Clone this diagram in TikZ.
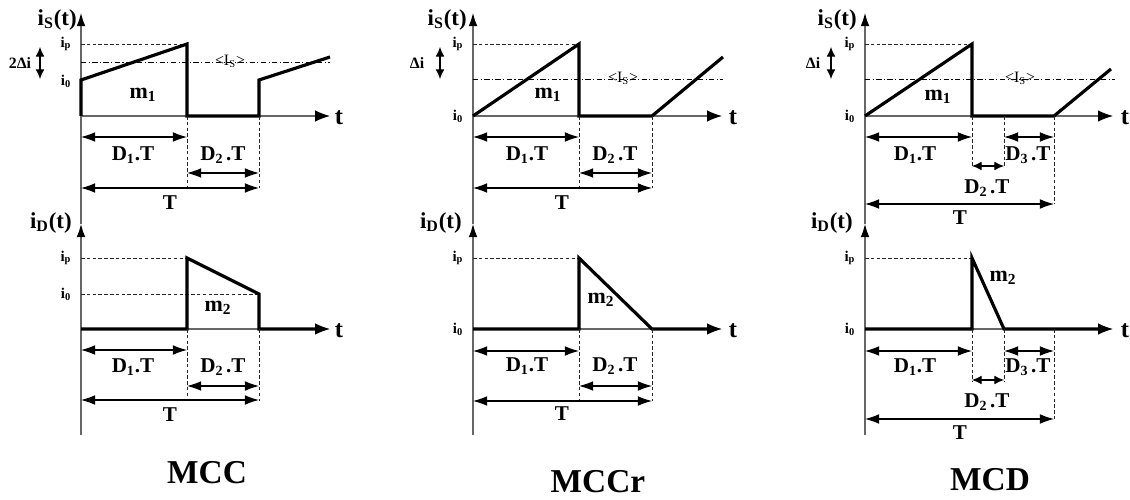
\documentclass[tikz,border=0pt]{standalone}
\usepackage{fontspec}
\setmainfont{Liberation Serif}
\usetikzlibrary{arrows.meta}
\tikzset{
  ax/.style={draw=black!60, line width=0.6pt},
  yaxis/.style={ax, -{Latex[length=7.5pt,width=5pt,color=black]}},
  taxis/.style={ax, -{Latex[length=8.5pt,width=6.5pt,color=black]}},
  wave/.style={line width=1.8pt, line join=miter},
  dim/.style={line width=0.6pt, {Latex[length=8pt,width=5.5pt]}-{Latex[length=8pt,width=5.5pt]}},
  dimsmall/.style={line width=0.6pt, {Latex[length=5.5pt,width=5pt]}-{Latex[length=5.5pt,width=5pt]}},
  guide/.style={line width=0.55pt, dash pattern=on 2pt off 1.3pt, draw=black!85},
  avg/.style={line width=0.5pt, dash pattern=on 3pt off 1.4pt on 0.6pt off 1.4pt},
  lbl/.style={font=\fontsize{12}{12}\selectfont\bfseries, inner sep=0pt},
  axlbl/.style={font=\fontsize{13}{13}\selectfont\bfseries, inner sep=0pt, anchor=east},
  small/.style={font=\fontsize{8.5}{8.5}\selectfont\bfseries, inner sep=0pt},
  avglbl/.style={font=\fontsize{9}{9}\selectfont, inner sep=0pt},
  tlbl/.style={font=\fontsize{14}{14}\selectfont\bfseries, inner sep=0pt},
  title/.style={font=\fontsize{19}{19}\selectfont\bfseries, inner sep=0pt},
  mlbl/.style={font=\fontsize{12.5}{12.5}\selectfont\bfseries, inner sep=0pt},
  dlbl/.style={font=\fontsize{9}{9}\selectfont\bfseries, inner sep=0pt},
}
\newcommand{\Dlab}[1]{D\textsubscript{#1}.T}
\newcommand{\Dlabs}[1]{D\textsubscript{#1}\kern1.5pt.T}
\begin{document}
\begin{tikzpicture}[x=0.02cm,y=-0.02cm]
\useasboundingbox (0,0) rectangle (1130,500);

% ================= Panel 1 : MCC =================
\begin{scope}[shift={(81,0)}]
  \draw[yaxis] (0,224) -- (0,13);
  \draw[yaxis] (0,435) -- (0,224);
  \draw[taxis] (0,116) -- (249,116);
  \draw[taxis] (0,329) -- (249,329);
  \node[tlbl] (A-t1) at (258,118) {t};
  \node[tlbl] (A-t2) at (258,331) {t};
  \node[axlbl] (A-is) at (-4,20) {i\textsubscript{S}(t)};
  \node[axlbl] (A-id) at (-9,223) {i\textsubscript{D}(t)};
  % top waveform
  \draw[guide] (0,44) -- (106,44);
  \draw[avg] (0,62) -- (249,62);
  \node[avglbl] (A-avg) at (149,61) {<I\textsubscript{S}>};
  \draw[wave] (0,116) -- (0,80) -- (106,44) -- (106,116) -- (178,116) -- (178,80) -- (249,57);
  \node[small] (A-ip) at (-15,44) {i\textsubscript{p}};
  \node[small] (A-i0) at (-15,81) {i\textsubscript{0}};
  \node[dlbl] (A-di) at (-61,63) {2Δi};
  \draw[dimsmall] (-41,47) -- (-41,79);
  \node[mlbl] (A-m1) at (62,95) {m\textsubscript{1}};
  \draw[guide] (106,116) -- (106,188);
  \draw[guide] (178,116) -- (178,188);
  \draw[dim] (0,137) -- (106,137);
  \node[lbl] (A-d1) at (52,155) {\Dlab{1}};
  \node[lbl] (A-d2) at (142,155) {\Dlabs{2}};
  \draw[dim] (106,173) -- (178,173);
  \draw[dim] (0,188) -- (178,188);
  \node[lbl] (A-T) at (89,203) {T};
  % bottom waveform
  \draw[guide] (0,258) -- (106,258);
  \draw[guide] (0,294) -- (178,294);
  \draw[wave] (0,329) -- (106,329) -- (106,258) -- (178,294) -- (178,329) -- (236,329);
  \node[small] (A-ip2) at (-15,258) {i\textsubscript{p}};
  \node[small] (A-i02) at (-15,294) {i\textsubscript{0}};
  \node[mlbl] (A-m2) at (137,308) {m\textsubscript{2}};
  \draw[guide] (106,329) -- (106,401);
  \draw[guide] (178,329) -- (178,401);
  \draw[dim] (0,350) -- (106,350);
  \node[lbl] (A-d1b) at (52,367) {\Dlab{1}};
  \node[lbl] (A-d2b) at (142,367) {\Dlabs{2}};
  \draw[dim] (106,386) -- (178,386);
  \draw[dim] (0,400) -- (178,400);
  \node[lbl] (A-Tb) at (89,415) {T};
  \node[title] (A-title) at (126,473) {MCC};
\end{scope}

% ================= Panel 2 : MCCr =================
\begin{scope}[shift={(473,0)}]
  \draw[yaxis] (0,224) -- (0,13);
  \draw[yaxis] (0,435) -- (0,224);
  \draw[taxis] (0,116) -- (249,116);
  \draw[taxis] (0,329) -- (249,329);
  \node[tlbl] (B-t1) at (260,118) {t};
  \node[tlbl] (B-t2) at (260,331) {t};
  \node[axlbl] (B-is) at (-6,20) {i\textsubscript{S}(t)};
  \node[axlbl] (B-id) at (-11,223) {i\textsubscript{D}(t)};
  \draw[guide] (0,44) -- (106,44);
  \draw[avg] (0,79) -- (250,79);
  \node[avglbl] (B-avg) at (150,78) {<I\textsubscript{S}>};
  \draw[wave] (0,116) -- (106,44) -- (106,116) -- (179,116) -- (250,57);
  \node[small] (B-ip) at (-15,44) {i\textsubscript{p}};
  \node[small] (B-i0) at (-15,116) {i\textsubscript{0}};
  \node[dlbl] (B-di) at (-56,63) {Δi};
  \draw[dimsmall] (-33,47) -- (-33,79);
  \node[mlbl] (B-m1) at (75,95) {m\textsubscript{1}};
  \draw[guide] (106,116) -- (106,188);
  \draw[guide] (179,116) -- (179,188);
  \draw[dim] (0,137) -- (106,137);
  \node[lbl] (B-d1) at (54,155) {\Dlab{1}};
  \node[lbl] (B-d2) at (142,155) {\Dlabs{2}};
  \draw[dim] (106,173) -- (179,173);
  \draw[dim] (0,188) -- (179,188);
  \node[lbl] (B-T) at (89,203) {T};
  % bottom
  \draw[guide] (0,258) -- (106,258);
  \draw[wave] (0,329) -- (106,329) -- (106,258) -- (179,329) -- (236,329);
  \node[small] (B-ip2) at (-15,258) {i\textsubscript{p}};
  \node[small] (B-i02) at (-15,329) {i\textsubscript{0}};
  \node[mlbl] (B-m2) at (128,300) {m\textsubscript{2}};
  \draw[guide] (106,329) -- (106,401);
  \draw[guide] (179,329) -- (179,401);
  \draw[dim] (0,351) -- (106,351);
  \node[lbl] (B-d1b) at (54,366) {\Dlab{1}};
  \node[lbl] (B-d2b) at (142,366) {\Dlabs{2}};
  \draw[dim] (106,386) -- (179,386);
  \draw[dim] (0,401) -- (179,401);
  \node[lbl] (B-Tb) at (89,414) {T};
  \node[title] (B-title) at (125,482) {MCCr};
\end{scope}

% ================= Panel 3 : MCD =================
\begin{scope}[shift={(865,0)}]
  \draw[yaxis] (0,224) -- (0,13);
  \draw[yaxis] (0,435) -- (0,224);
  \draw[taxis] (0,116) -- (248,116);
  \draw[taxis] (0,329) -- (248,329);
  \node[tlbl] (C-t1) at (260,118) {t};
  \node[tlbl] (C-t2) at (260,331) {t};
  \node[axlbl] (C-is) at (-8,20) {i\textsubscript{S}(t)};
  \node[axlbl] (C-id) at (-12,223) {i\textsubscript{D}(t)};
  \draw[guide] (0,44) -- (107,44);
  \draw[avg] (0,79) -- (250,79);
  \node[avglbl] (C-avg) at (155,78) {<I\textsubscript{S}>};
  \draw[wave] (0,116) -- (107,44) -- (107,116) -- (189,116) -- (246,69);
  \node[small] (C-ip) at (-15,44) {i\textsubscript{p}};
  \node[small] (C-i0) at (-15,116) {i\textsubscript{0}};
  \node[dlbl] (C-di) at (-52,63) {Δi};
  \draw[dimsmall] (-34,47) -- (-34,79);
  \node[mlbl] (C-m1) at (73,97) {m\textsubscript{1}};
  \draw[guide] (107,116) -- (107,166);
  \draw[guide] (139,116) -- (139,166);
  \draw[guide] (189,116) -- (189,204);
  \draw[dim] (0,137) -- (107,137);
  \node[lbl] (C-d1) at (50,155) {\Dlab{1}};
  \draw[dim] (139,137) -- (189,137);
  \node[lbl] (C-d3) at (163,155) {\Dlabs{3}};
  \draw[dimsmall] (107,166) -- (139,166);
  \node[lbl] (C-d2) at (122,188) {\Dlabs{2}};
  \draw[dim] (0,204) -- (189,204);
  \node[lbl] (C-T) at (95,218) {T};
  % bottom
  \draw[guide] (0,258) -- (107,258);
  \draw[wave] (0,329) -- (107,329) -- (107,258) -- (139,329) -- (235,329);
  \node[small] (C-ip2) at (-15,258) {i\textsubscript{p}};
  \node[small] (C-i02) at (-15,329) {i\textsubscript{0}};
  \node[mlbl] (C-m2) at (138,278) {m\textsubscript{2}};
  \draw[guide] (107,329) -- (107,382);
  \draw[guide] (139,329) -- (139,382);
  \draw[guide] (189,329) -- (189,420);
  \draw[dim] (0,351) -- (107,351);
  \node[lbl] (C-d1b) at (50,367) {\Dlab{1}};
  \draw[dim] (139,351) -- (189,351);
  \node[lbl] (C-d3b) at (163,367) {\Dlabs{3}};
  \draw[dimsmall] (107,380) -- (139,380);
  \node[lbl] (C-d2b) at (122,402) {\Dlabs{2}};
  \draw[dim] (0,419) -- (189,419);
  \node[lbl] (C-Tb) at (95,433) {T};
  \node[title] (C-title) at (125,480) {MCD};
\end{scope}
\end{tikzpicture}
\end{document}
